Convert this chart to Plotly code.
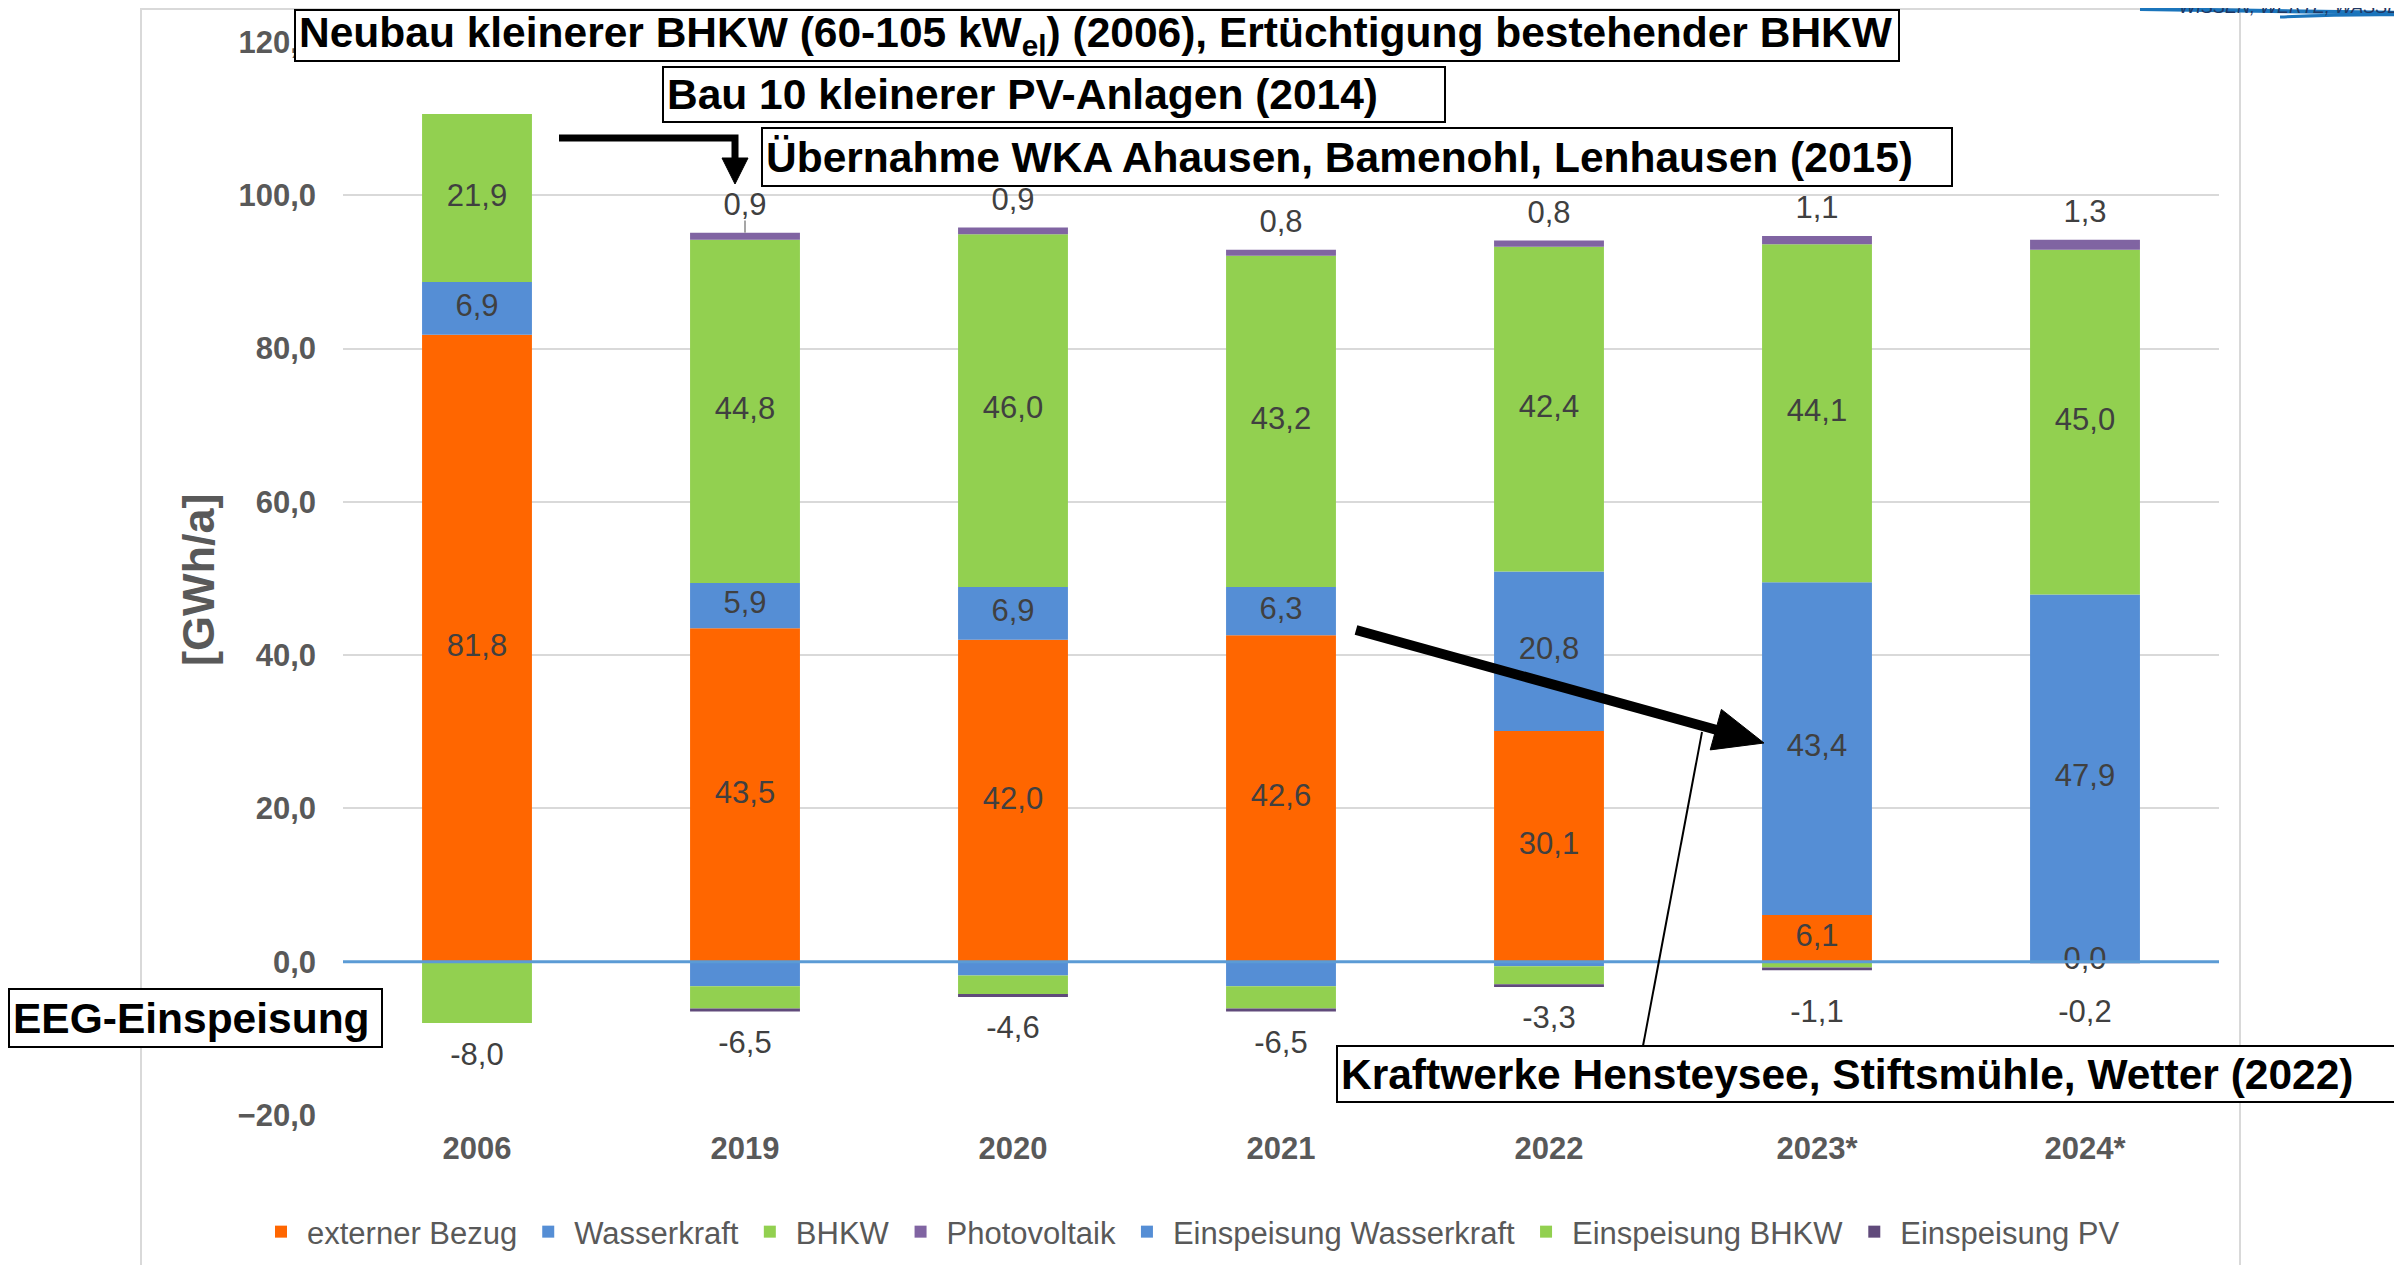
import plotly.graph_objects as go

# ---------------- data ----------------
categories = ["2006", "2019", "2020", "2021", "2022", "2023*", "2024*"]
externer_bezug = [81.8, 43.5, 42.0, 42.6, 30.1, 6.1, 0.0]
wasserkraft = [6.9, 5.9, 6.9, 6.3, 20.8, 43.4, 47.9]
bhkw = [21.9, 44.8, 46.0, 43.2, 42.4, 44.1, 45.0]
photovoltaik = [0.0, 0.9, 0.9, 0.8, 0.8, 1.1, 1.3]
einsp_wasserkraft = [0.0, -3.2, -1.8, -3.2, -0.6, 0.0, 0.0]
einsp_bhkw = [-8.0, -2.9, -2.4, -2.9, -2.35, -0.75, 0.0]
einsp_pv = [0.0, -0.4, -0.4, -0.4, -0.35, -0.35, -0.2]
y_ticks = [-20, 0, 20, 40, 60, 80, 100, 120]

# ---------------- style ----------------
FONT = "Liberation Sans, Arial, sans-serif"
C_ORANGE = "#FF6600"
C_BLUE = "#558ED5"
C_GREEN = "#92D050"
C_PURPLE = "#8064A2"
C_DPURPLE = "#604A7B"
LABEL_C = "#404040"
AXIS_C = "#595959"

FIG_W, FIG_H = 2402, 1265
OFF = 8  # page body margin in the browser
L, R, T, B = 343 - OFF, 2219 - OFF, 42 - OFF, 1115 - OFF
PW, PH = R - L, B - T


def px(x):
    return (x - OFF - L) / PW


def py(y):
    return (B - (y - OFF)) / PH


def fmt(v):
    return f"{v:.1f}".replace(".", ",")


fig = go.Figure()

series = [
    ("externer Bezug", externer_bezug, C_ORANGE),
    ("Wasserkraft", wasserkraft, C_BLUE),
    ("BHKW", bhkw, C_GREEN),
    ("Photovoltaik", photovoltaik, C_PURPLE),
    ("Einspeisung Wasserkraft", einsp_wasserkraft, C_BLUE),
    ("Einspeisung BHKW", einsp_bhkw, C_GREEN),
    ("Einspeisung PV", einsp_pv, C_DPURPLE),
]
for name, vals, col in series:
    fig.add_trace(go.Bar(
        x=categories, y=vals, name=name, width=0.41,
        marker=dict(color=col, line=dict(width=0)),
        hoverinfo="skip",
    ))

# segment labels (centred in segments)
base = [0.0] * len(categories)
for vals in (externer_bezug, wasserkraft, bhkw):
    centers = [b + v / 2 for b, v in zip(base, vals)]
    fig.add_trace(go.Scatter(
        x=categories, y=centers, mode="text",
        text=[fmt(v) for v in vals], showlegend=False, hoverinfo="skip",
        textfont=dict(family=FONT, size=31, color=LABEL_C),
    ))
    base = [b + v for b, v in zip(base, vals)]

# PV labels above bars
tops = [b + v for b, v in zip(base, photovoltaik)]
pv_x = [c for c, v in zip(categories, photovoltaik) if v > 0]
pv_y = [t + 3.3 for t, v in zip(tops, photovoltaik) if v > 0]
pv_t = [fmt(v) for v in photovoltaik if v > 0]
fig.add_trace(go.Scatter(
    x=pv_x, y=pv_y, mode="text", text=pv_t, showlegend=False, hoverinfo="skip",
    textfont=dict(family=FONT, size=31, color=LABEL_C),
))

# negative totals below bars
neg_tot = [a + b + c for a, b, c in zip(einsp_wasserkraft, einsp_bhkw, einsp_pv)]
fig.add_trace(go.Scatter(
    x=categories, y=[min(t, -2.5) - 4.4 for t in neg_tot], mode="text",
    text=[fmt(t) for t in neg_tot], showlegend=False, hoverinfo="skip",
    textfont=dict(family=FONT, size=31, color=LABEL_C),
))

shapes = []
# outer chart border
shapes.append(dict(type="rect", xref="paper", yref="paper",
                   x0=px(141), x1=px(2240), y0=py(1300), y1=py(9),
                   line=dict(color="#D9D9D9", width=2), layer="below"))
# zero axis line (blue)
shapes.append(dict(type="line", xref="paper", yref="y", x0=0, x1=1, y0=0, y1=0,
                   line=dict(color="#5B9BD5", width=3), layer="above"))
# leader line for 2019 PV label
shapes.append(dict(type="line", xref="x", yref="y", x0=1, x1=1,
                   y0=tops[1], y1=tops[1] + 1.6,
                   line=dict(color="#A6A6A6", width=2)))

# elbow arrow
shapes.append(dict(type="path", xref="paper", yref="paper",
                   path=f"M{px(559)},{py(138)} L{px(735)},{py(138)} L{px(735)},{py(162)}",
                   line=dict(color="black", width=7)))
shapes.append(dict(type="path", xref="paper", yref="paper",
                   path=f"M{px(722)},{py(158)} L{px(748)},{py(158)} L{px(735)},{py(184)} Z",
                   fillcolor="black", line=dict(color="black", width=1)))

# diagonal arrow
tail = (1356, 630)
tip = (1764, 743)
dx, dy = tip[0] - tail[0], tip[1] - tail[1]
ln = (dx * dx + dy * dy) ** 0.5
ux, uy = dx / ln, dy / ln
nx, ny = -uy, ux
hl, hw = 50, 21
bx, by = tip[0] - hl * ux, tip[1] - hl * uy
shapes.append(dict(type="line", xref="paper", yref="paper",
                   x0=px(tail[0]), y0=py(tail[1]), x1=px(bx + 4 * ux), y1=py(by + 4 * uy),
                   line=dict(color="black", width=10)))
shapes.append(dict(type="path", xref="paper", yref="paper",
                   path=(f"M{px(bx + hw * nx)},{py(by + hw * ny)} "
                         f"L{px(bx - hw * nx)},{py(by - hw * ny)} "
                         f"L{px(tip[0])},{py(tip[1])} Z"),
                   fillcolor="black", line=dict(color="black", width=1)))

# thin pointer line from Kraftwerke box
shapes.append(dict(type="line", xref="paper", yref="paper",
                   x0=px(1643), y0=py(1046), x1=px(1702), y1=py(732),
                   line=dict(color="black", width=2)))

# logo swoosh (cropped)
shapes.append(dict(type="path", xref="paper", yref="paper",
                   path=f"M{px(2140)},{py(9)} Q{px(2280)},{py(11)} {px(2410)},{py(13)}",
                   line=dict(color="#1B75BC", width=4)))
shapes.append(dict(type="path", xref="paper", yref="paper",
                   path=f"M{px(2280)},{py(17)} Q{px(2350)},{py(14)} {px(2410)},{py(15)}",
                   line=dict(color="#1B75BC", width=3)))

annotations = []


def box(text, x0, y0, x1, y1):
    bw, pad = 2, 3
    annotations.append(dict(
        text=text, xref="paper", yref="paper", x=px(x0), y=py(y0),
        xanchor="left", yanchor="top", showarrow=False, align="left", valign="middle",
        width=(x1 - x0) - 2 * bw - 2 * pad, height=(y1 - y0) - 2 * bw - 2 * pad,
        bgcolor="white", bordercolor="black", borderwidth=bw, borderpad=pad,
        font=dict(family=FONT, size=42.5, color="black"),
    ))


box("<b>Neubau kleinerer BHKW (60-105 kW<sub>el</sub>) (2006), Ertüchtigung bestehender BHKW</b>",
    294, 9, 1900, 62)
box("<b>Bau 10 kleinerer PV-Anlagen (2014)</b>", 662, 66, 1446, 123)
box("<b>Übernahme WKA Ahausen, Bamenohl, Lenhausen (2015)</b>", 761, 127, 1953, 187)
box("<b>EEG-Einspeisung</b>", 8, 988, 383, 1048)
box("<b>Kraftwerke Hensteysee, Stiftsmühle, Wetter (2022)</b>", 1336, 1045, 2399, 1103)

# y axis title
annotations.append(dict(
    text="<b>[GWh/a]</b>", xref="paper", yref="paper", x=px(199), y=py(580),
    xanchor="center", yanchor="middle", textangle=-90, showarrow=False,
    font=dict(family=FONT, size=45, color=AXIS_C),
))
# logo text (cropped at top)
annotations.append(dict(
    text="<i>WISSEN, WERTE, WASSER</i>", xref="paper", yref="paper", x=px(2177), y=py(19),
    xanchor="left", yanchor="bottom", showarrow=False,
    font=dict(family=FONT, size=18, color="#1F3864"),
))

fig.update_layout(
    width=FIG_W, height=FIG_H,
    margin=dict(l=L, r=FIG_W - R, t=T, b=FIG_H - B, autoexpand=False),
    paper_bgcolor="white", plot_bgcolor="white",
    barmode="relative", bargap=0.59,
    separators=",.",
    font=dict(family=FONT, color=AXIS_C),
    shapes=shapes, annotations=annotations,
    legend=dict(
        orientation="h", x=px(1190), xanchor="center", y=py(1232), yanchor="middle",
        font=dict(family=FONT, size=31, color=AXIS_C), traceorder="normal",
        itemwidth=42, bgcolor="rgba(0,0,0,0)",
    ),
    xaxis=dict(
        type="category", range=[-0.5, len(categories) - 0.5],
        showgrid=False, zeroline=False, showline=False, ticks="",
        tickfont=dict(family=FONT, size=31, color=AXIS_C, weight="bold"),
        ticklabelstandoff=12,
    ),
    yaxis=dict(
        range=[-20, 120], tickvals=y_ticks, tickformat=".1f",
        showgrid=True, gridcolor="#D9D9D9", gridwidth=2,
        zeroline=False, showline=False, ticks="",
        tickfont=dict(family=FONT, size=31, color=AXIS_C, weight="bold"),
        ticklabelstandoff=26,
    ),
)

fig.write_html("out.html")
